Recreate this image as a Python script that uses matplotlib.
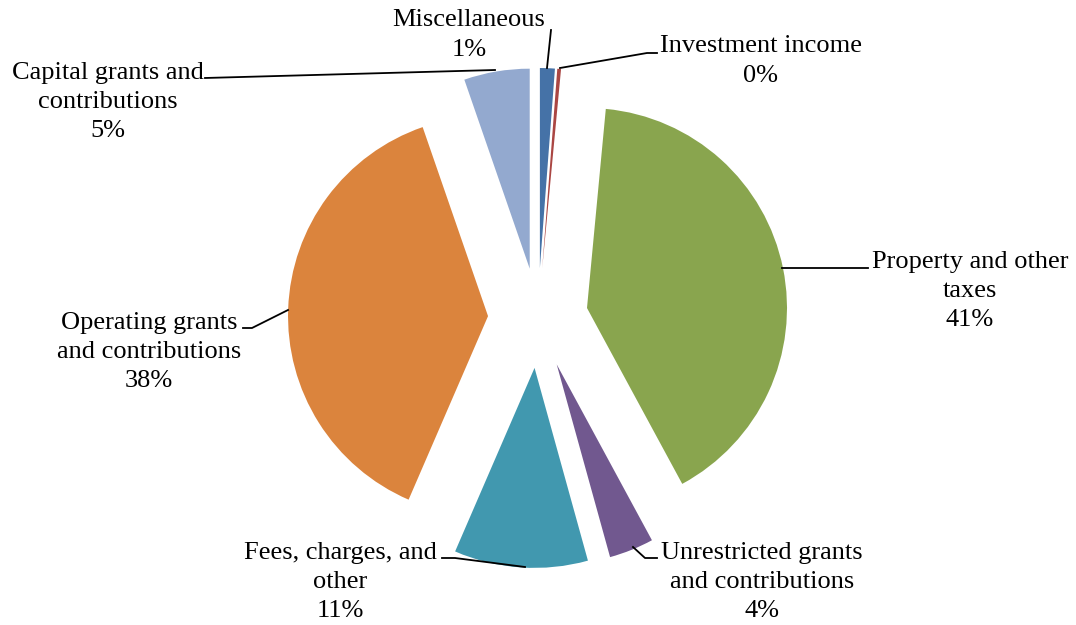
import numpy as np
import matplotlib.pyplot as plt

# 세입 구성 (percent)
categories = ['Miscellaneous', 'Investment income', 'Property and other\ntaxes',
              'Unrestricted grants\nand contributions', 'Fees, charges, and\nother',
              'Operating grants\nand contributions', 'Capital grants and\ncontributions']
shares = [1.2, 0.3, 40.6, 3.6, 10.8, 38.2, 5.3]
pct_labels = ['1%', '0%', '41%', '4%', '11%', '38%', '5%']
colors = ['#4572A7', '#AA4643', '#89A54E', '#71588F', '#4198AF', '#DB843D', '#93A9CF']

# label centres and leader lines, in image pixels (y down)
label_xy = [(469, 35), (761, 61), (970, 291), (762, 582), (340, 582), (149, 352), (108, 102)]
leaders = [
    [(547, 68), (551, 30)],
    [(560, 68), (647, 53), (657, 53)],
    [(782, 268), (868, 268)],
    [(633, 547), (645, 558), (657, 558)],
    [(442, 558), (455, 558), (525, 567)],
    [(243, 328), (252, 328), (288, 310)],
    [(205, 78), (495, 70)],
]

W, H = 1076, 625
R = 200
fig = plt.figure(figsize=(W / 100, H / 100), dpi=100)
ax = fig.add_axes([0, 0, 1, 1])

# explode 는 data 단위 -> 반지름의 1/4
ax.pie(shares, colors=colors, startangle=90, counterclock=False,
       explode=[0.25 * R] * len(shares), center=(538, H - 318), radius=R,
       wedgeprops=dict(linewidth=0), normalize=True)

for (x, y), name, pct in zip(label_xy, categories, pct_labels):
    ax.text(x, H - y, name + '\n' + pct, ha='center', va='center',
            fontsize=19, family='Liberation Serif', linespacing=1.42)

for pts in leaders:
    xs = [p[0] for p in pts]
    ys = [H - p[1] for p in pts]
    ax.plot(xs, ys, color='black', lw=1.3)

ax.set_xlim(0, W)
ax.set_ylim(0, H)
ax.set_aspect('equal')
ax.axis('off')

fig.savefig('out.png', dpi=100)
